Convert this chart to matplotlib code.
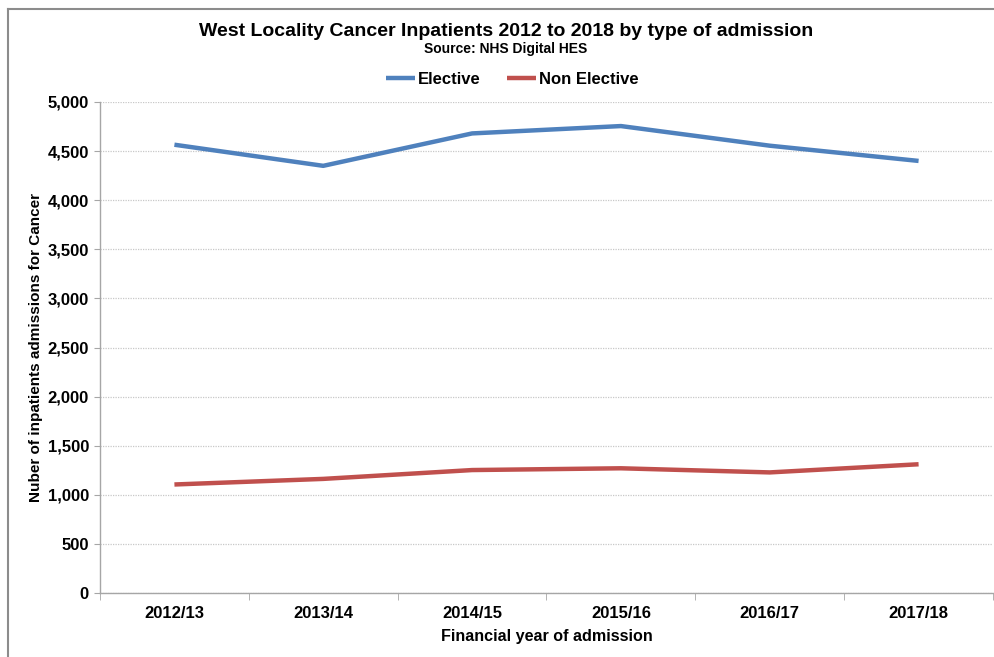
import matplotlib
matplotlib.use("Agg")
import matplotlib.pyplot as plt
from matplotlib.lines import Line2D
from matplotlib.ticker import FuncFormatter, FixedLocator

plt.rcParams['font.family'] = ['Liberation Sans', 'DejaVu Sans']

years = ['2012/13', '2013/14', '2014/15', '2015/16', '2016/17', '2017/18']
elective = [4565, 4350, 4680, 4755, 4555, 4400]
non_elective = [1105, 1162, 1252, 1270, 1228, 1311]

fig = plt.figure(figsize=(9.95, 6.57), dpi=100)
ax = fig.add_axes([100 / 995, 64 / 657, 893 / 995, 491 / 657])

x = list(range(len(years)))
ax.plot(x, elective, color='#4F81BD', lw=3.2, label='Elective', solid_capstyle='butt')
ax.plot(x, non_elective, color='#C0504D', lw=3.2, label='Non Elective', solid_capstyle='butt')

ax.set_xlim(-0.5, len(years) - 0.5)
ax.set_ylim(0, 5000)
ax.set_yticks(range(0, 5001, 500))
ax.yaxis.set_major_formatter(FuncFormatter(lambda v, p: f'{int(v):,}'))
ax.set_xticks(x)
ax.set_xticklabels(years)
ax.xaxis.set_minor_locator(FixedLocator([i - 0.5 for i in range(len(years) + 1)]))
ax.tick_params(axis='x', which='major', length=0, pad=9)
ax.tick_params(axis='x', which='minor', length=5, color='#a6a6a6', direction='out')
ax.tick_params(axis='y', length=4, color='#a6a6a6', pad=4)
for lab in ax.get_xticklabels() + ax.get_yticklabels():
    lab.set_fontsize(12)
    lab.set_fontweight('bold')

ax.grid(axis='y', color='#c8c8c8', lw=0.9, linestyle=(0, (1, 1)))
ax.set_axisbelow(True)
for s in ['top', 'right']:
    ax.spines[s].set_visible(False)
for s in ['left', 'bottom']:
    ax.spines[s].set_color('#a6a6a6')
    ax.spines[s].set_linewidth(1.0)

ax.set_xlabel('Financial year of admission', fontsize=11.6, fontweight='bold', labelpad=6)
ax.set_ylabel('Nuber of inpatients admissions for Cancer', fontsize=11, fontweight='bold', labelpad=3)

fig.text(0.509, 1 - 31 / 657, 'West Locality Cancer Inpatients 2012 to 2018 by type of admission',
         ha='center', va='center', fontsize=14, fontweight='bold')
fig.text(0.508, 1 - 49 / 657, 'Source: NHS Digital HES',
         ha='center', va='center', fontsize=10, fontweight='bold')

fig.legend(loc='center', bbox_to_anchor=(0.515, 1 - 79 / 657), ncol=2, frameon=False,
           prop={'size': 12, 'weight': 'bold'}, handlelength=1.75, handletextpad=0.15,
           columnspacing=1.6)

# outer chart border (left and top)
fig.add_artist(Line2D([8 / 995, 8 / 995], [0, 1 - 9 / 657], transform=fig.transFigure,
                      color='#8c8c8c', lw=1.5))
fig.add_artist(Line2D([8 / 995, 1], [1 - 9 / 657, 1 - 9 / 657], transform=fig.transFigure,
                      color='#8c8c8c', lw=1.5))

fig.savefig('out.png', dpi=100)
